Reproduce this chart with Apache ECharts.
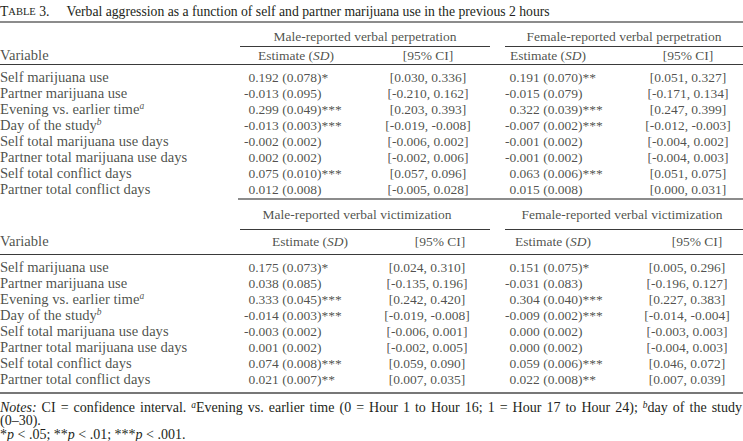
<!DOCTYPE html>
<html><head><meta charset="utf-8">
<script src="https://cdn.jsdelivr.net/npm/echarts@6/dist/echarts.min.js"></script>
<style>html,body{margin:0;padding:0;background:#fff}#c{width:743px;height:441px}</style>
</head><body><div id="c"></div>
<script>
// ---------- data ----------
const variables = ['Self marijuana use','Partner marijuana use','Evening vs. earlier time','Day of the study','Self total marijuana use days','Partner total marijuana use days','Self total conflict days','Partner total conflict days'];
const variableNotes = ['','','a','b','','','',''];
const perpGroups = ['Male-reported verbal perpetration','Female-reported verbal perpetration'];
const victGroups = ['Male-reported verbal victimization','Female-reported verbal victimization'];
const colHeaders = ['Variable','Estimate (SD)','[95% CI]','Estimate (SD)','[95% CI]'];
const malePerpEst = ['0.192 (0.078)*','-0.013 (0.095)','0.299 (0.049)***','-0.013 (0.003)***','-0.002 (0.002)','0.002 (0.002)','0.075 (0.010)***','0.012 (0.008)'];
const malePerpCI = ['[0.030, 0.336]','[-0.210, 0.162]','[0.203, 0.393]','[-0.019, -0.008]','[-0.006, 0.002]','[-0.002, 0.006]','[0.057, 0.096]','[-0.005, 0.028]'];
const femalePerpEst = ['0.191 (0.070)**','-0.015 (0.079)','0.322 (0.039)***','-0.007 (0.002)***','-0.001 (0.002)','-0.001 (0.002)','0.063 (0.006)***','0.015 (0.008)'];
const femalePerpCI = ['[0.051, 0.327]','[-0.171, 0.134]','[0.247, 0.399]','[-0.012, -0.003]','[-0.004, 0.002]','[-0.004, 0.003]','[0.051, 0.075]','[0.000, 0.031]'];
const maleVictEst = ['0.175 (0.073)*','0.038 (0.085)','0.333 (0.045)***','-0.014 (0.003)***','-0.003 (0.002)','0.001 (0.002)','0.074 (0.008)***','0.021 (0.007)**'];
const maleVictCI = ['[0.024, 0.310]','[-0.135, 0.196]','[0.242, 0.420]','[-0.019, -0.008]','[-0.006, 0.001]','[-0.002, 0.005]','[0.059, 0.090]','[0.007, 0.035]'];
const femaleVictEst = ['0.151 (0.075)*','-0.031 (0.083)','0.304 (0.040)***','-0.009 (0.002)***','0.000 (0.002)','0.000 (0.002)','0.059 (0.006)***','0.022 (0.008)**'];
const femaleVictCI = ['[0.005, 0.296]','[-0.196, 0.127]','[0.227, 0.383]','[-0.014, -0.004]','[-0.003, 0.003]','[-0.004, 0.003]','[0.046, 0.072]','[0.007, 0.039]'];
const titleText = 'Verbal aggression as a function of self and partner marijuana use in the previous 2 hours';
const noteWords = ['{i|Notes:}','CI','=','confidence','interval.','{sup|a}Evening','vs.','earlier','time','(0','=','Hour','1','to','Hour','16;','1','=','Hour','17','to','Hour','24);','{sup|b}day','of','the','study'];
const noteLine2 = '(0\u201330).';
const noteLine3 = '*{i|p} < .05; **{i|p} < .01; ***{i|p} < .001.';

// ---------- layout ----------
const W = 743, H = 441;
const FONT = '"Liberation Serif", "Times New Roman", serif';
const FS = 13.5, FS_VAR = 14.6, FS_NOTE = 14, FS_TITLE = 13.7, INK = '#231f20';
const ROW_H = 16;
const blocks = [
  {groups: perpGroups, est: [malePerpEst, femalePerpEst], ci: [malePerpCI, femalePerpCI],
   groupY: 36, underY: 46, subY: 55, ruleY: 64, rowY: 77,
   groupX: [365, 624], subX: [296, 428, 548, 688], estX: [244, 505], ciX: [428, 688]},
  {groups: victGroups, est: [maleVictEst, femaleVictEst], ci: [maleVictCI, femaleVictCI],
   groupY: 214, underY: 229, subY: 241, ruleY: 254, rowY: 267,
   groupX: [357, 622], subX: [310, 440, 553, 697], estX: [244, 505], ciX: [427, 687]}
];
function makeRich(fs) {
  return {
    sup: {fontFamily: FONT, fontSize: 9.5, fontStyle: 'italic', color: INK, verticalAlign: 'top', padding: [0,0,6,0]},
    i: {fontFamily: FONT, fontSize: fs, fontStyle: 'italic', color: INK},
    h: {fontFamily: FONT, fontSize: fs, color: 'rgba(0,0,0,0)'}
  };
}
function textSeries(points, align, fs) {
  return {
    type: 'scatter', symbolSize: 0, silent: true, animation: false,
    data: points,
    label: {show: true, position: [0, 0], align: align, verticalAlign: 'middle',
      fontFamily: FONT, fontSize: fs, color: INK, rich: makeRich(fs),
      formatter: p => p.data[2]}
  };
}
const varText = [], left = [], center = [];
const lines = [];
function rule(x1, x2, y, w, c) { lines.push({coords: [[x1, y], [x2, y]], lineStyle: {width: w, color: c}}); }

rule(0, W, 22, 2, '#8c8c8c');
blocks.forEach((b) => {
  b.groups.forEach((g, gi) => center.push([b.groupX[gi], b.groupY, g]));
  rule(240, 490, b.underY, 1, '#3a3a3a');
  rule(505, W, b.underY, 1, '#3a3a3a');
  varText.push([0, b.subY, colHeaders[0]]);
  colHeaders.slice(1).forEach((h, hi) => {
    center.push([b.subX[hi], b.subY, h.replace('(SD)', '({i|SD})')]);
  });
  rule(0, W, b.ruleY, 1, '#3a3a3a');
  variables.forEach((v, i) => {
    const y = b.rowY + i * ROW_H;
    varText.push([0, y, variableNotes[i] ? v + '{sup|' + variableNotes[i] + '}' : v]);
    [0, 1].forEach(k => {
      const e = b.est[k][i];
      left.push([b.estX[k], y, e.charAt(0) === '-' ? e : '{h|-}' + e]);
      center.push([b.ciX[k], y, b.ci[k][i]]);
    });
  });
});
rule(238, W, 199, 2, '#8c8c8c');
rule(0, W, 393, 1.5, '#4a4a4a');

const series = [
  textSeries(varText, 'left', FS_VAR),
  textSeries(left, 'left', FS),
  textSeries(center, 'center', FS),
  {type: 'lines', coordinateSystem: 'cartesian2d', silent: true, animation: false,
   polyline: false, data: lines, lineStyle: {opacity: 1}}
];

// justified notes line: measure words, spread them across the full width
const ctx = document.createElement('canvas').getContext('2d');
function measure(word) {
  let w = 0;
  const re = /\{(\w+)\|([^}]*)\}|([^{]+)/g; let m;
  while ((m = re.exec(word))) {
    if (m[1] === 'sup') { ctx.font = 'italic 9.5px ' + FONT; w += ctx.measureText(m[2]).width; }
    else if (m[1] === 'i') { ctx.font = 'italic ' + FS_NOTE + 'px ' + FONT; w += ctx.measureText(m[2]).width; }
    else { ctx.font = FS_NOTE + 'px ' + FONT; w += ctx.measureText(m[3]).width; }
  }
  return w;
}
const noteRich = {
  i: {fontStyle: 'italic', fontFamily: FONT, fontSize: FS_NOTE, fill: INK},
  sup: {fontStyle: 'italic', fontFamily: FONT, fontSize: 9.5, fill: INK, verticalAlign: 'top'}
};
const widths = noteWords.map(measure);
const gap = (W - 1 - widths.reduce((a, b) => a + b, 0)) / (noteWords.length - 1);
const graphics = [];
let gx = 0;
noteWords.forEach((w, i) => {
  graphics.push({type: 'text', x: gx, y: 407, silent: true,
    style: {text: w, font: FS_NOTE + 'px ' + FONT, fill: INK, rich: noteRich, verticalAlign: 'middle'}});
  gx += widths[i] + gap;
});
graphics.push({type: 'text', x: 0, y: 420.5, silent: true, style: {text: noteLine2, font: FS_NOTE + 'px ' + FONT, fill: INK, rich: noteRich, verticalAlign: 'middle'}});
graphics.push({type: 'text', x: 0, y: 434, silent: true, style: {text: noteLine3, font: FS_NOTE + 'px ' + FONT, fill: INK, rich: noteRich, verticalAlign: 'middle'}});

const chart = echarts.init(document.getElementById('c'), null, {renderer: 'svg'});
chart.setOption({
  animation: false,
  grid: {left: 0, right: 0, top: 0, bottom: 0},
  xAxis: {type: 'value', min: 0, max: W, show: false},
  yAxis: {type: 'value', min: 0, max: H, inverse: true, show: false},
  title: {
    left: 0, top: 4, padding: 0,
    text: '{c|T}{s|ABLE} {c|3.}     {c|' + titleText + '}',
    textStyle: {fontFamily: FONT, fontWeight: 'normal', fontSize: FS_TITLE, color: INK,
      rich: {c: {fontFamily: FONT, fontSize: FS_TITLE, color: INK}, s: {fontFamily: FONT, fontSize: 10.5, color: INK}}}
  },
  graphic: graphics,
  series: series
});
</script></body></html>
